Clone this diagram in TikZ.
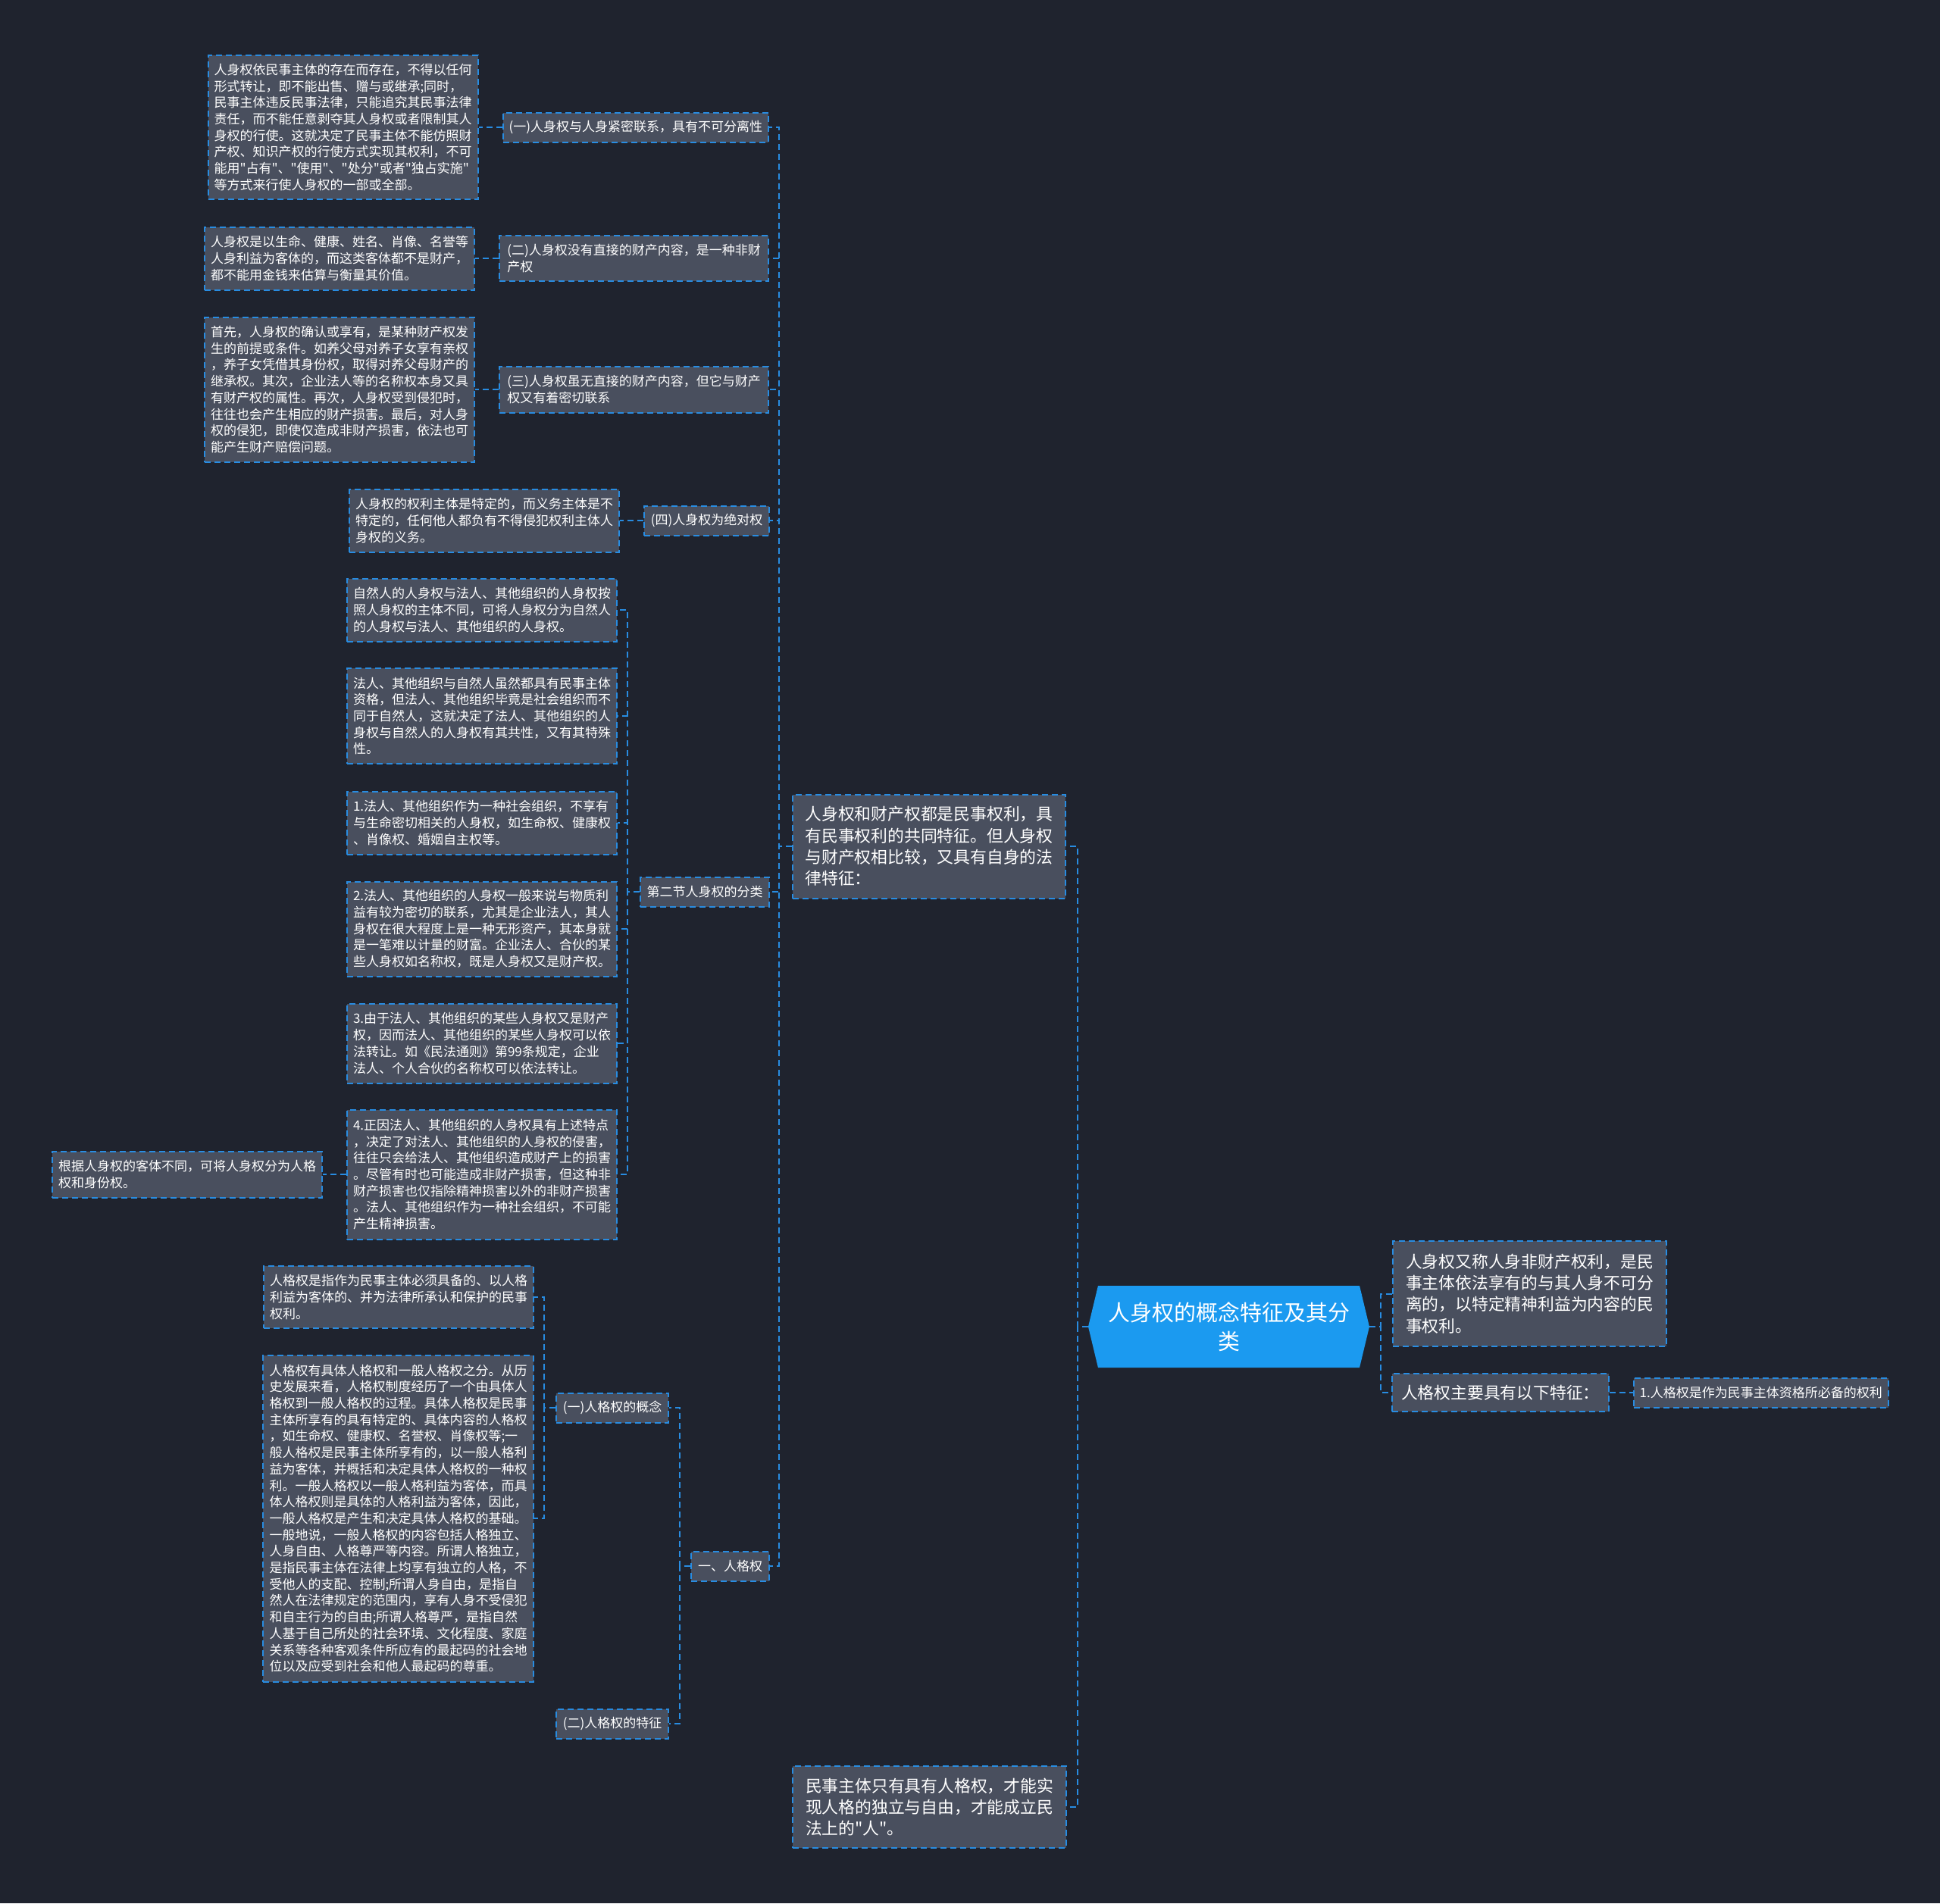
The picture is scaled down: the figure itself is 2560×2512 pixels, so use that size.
\documentclass[tikz,border=0pt]{standalone}
\usepackage{fontspec}
\newfontfamily\cjk{Noto Sans CJK SC}
\usetikzlibrary{positioning,shapes.symbols}
\definecolor{bgdark}{HTML}{1F232E}
\definecolor{boxgrey}{HTML}{494F5E}
\definecolor{linkblue}{HTML}{288CE1}
\definecolor{rootblue}{HTML}{1B9AF0}
\tikzset{
  leaf/.style={draw=linkblue, dash pattern=on 8pt off 5pt, line width=2pt, fill=boxgrey,
    text=white, align=left, inner xsep=8pt, inner ysep=4pt, font=\cjk\fontsize{17}{21.7}\selectfont},
  topic/.style={leaf, inner xsep=12pt, font=\cjk\fontsize{21.8}{28.3}\selectfont},
  link/.style={draw=linkblue, dash pattern=on 8pt off 5pt, line width=2pt},
  rootbox/.style={signal, signal to=west and east, signal pointer angle=153, fill=rootblue,
    text=white, align=center, font=\cjk\fontsize{29}{38}\selectfont}
}
\begin{document}
\begin{tikzpicture}[x=1pt, y=-1pt, node distance=31pt]
    \path[use as bounding box, fill=bgdark] (0,0) rectangle (2560,2512);

    \node[rootbox, minimum width=371pt, minimum height=108pt] (root) at (1621.5,1751)
      {人身权的概念特征及其分\\类};
    \node[topic, anchor=west, minimum width=361pt, minimum height=139pt] (def) at (1837,1707.5)
      {人身权又称人身非财产权利，是民\\事主体依法享有的与其人身不可分\\离的，以特定精神利益为内容的民\\事权利。};
    \node[topic, anchor=west, minimum width=284pt, minimum height=50pt] (feat) at (1836,1838)
      {人格权主要具有以下特征：};
    \node[leaf, right=of feat, minimum width=335pt, minimum height=39pt] (feat1)
      {1.人格权是作为民事主体资格所必备的权利};

    \node[topic, anchor=east, minimum width=360pt, minimum height=137pt] (cmp) at (1407,1117)
      {人身权和财产权都是民事权利，具\\有民事权利的共同特征。但人身权\\与财产权相比较，又具有自身的法\\律特征：};
    \node[topic, anchor=east, minimum width=361pt, minimum height=108pt] (pers) at (1408,2385)
      {民事主体只有具有人格权，才能实\\现人格的独立与自由，才能成立民\\法上的"人"。};

    \node[leaf, anchor=east, minimum width=350pt, minimum height=39pt] (k1) at (1015,168)
      {(一)人身权与人身紧密联系，具有不可分离性};
    \node[leaf, left=of k1, minimum width=356pt, minimum height=190pt] (t1)
      {人身权依民事主体的存在而存在，不得以任何\\形式转让，即不能出售、赠与或继承;同时，\\民事主体违反民事法律，只能追究其民事法律\\责任，而不能任意剥夺其人身权或者限制其人\\身权的行使。这就决定了民事主体不能仿照财\\产权、知识产权的行使方式实现其权利，不可\\能用"占有"、"使用"、"处分"或者"独占实施"\\等方式来行使人身权的一部或全部。};
    \node[leaf, anchor=east, minimum width=355pt, minimum height=60pt] (k2) at (1015,341)
      {(二)人身权没有直接的财产内容，是一种非财\\产权};
    \node[leaf, left=of k2, minimum width=356pt, minimum height=83pt] (t2)
      {人身权是以生命、健康、姓名、肖像、名誉等\\人身利益为客体的，而这类客体都不是财产，\\都不能用金钱来估算与衡量其价值。};
    \node[leaf, anchor=east, minimum width=355pt, minimum height=61pt] (k3) at (1015,514)
      {(三)人身权虽无直接的财产内容，但它与财产\\权又有着密切联系};
    \node[leaf, left=of k3, minimum width=356pt, minimum height=191pt] (t3)
      {首先，人身权的确认或享有，是某种财产权发\\生的前提或条件。如养父母对养子女享有亲权\\，养子女凭借其身份权，取得对养父母财产的\\继承权。其次，企业法人等的名称权本身又具\\有财产权的属性。再次，人身权受到侵犯时，\\往往也会产生相应的财产损害。最后，对人身\\权的侵犯，即使仅造成非财产损害，依法也可\\能产生财产赔偿问题。};
    \node[leaf, anchor=east, minimum width=165pt, minimum height=39pt] (k4) at (1016,687)
      {(四)人身权为绝对权};
    \node[leaf, left=of k4, minimum width=356pt, minimum height=83pt] (t4)
      {人身权的权利主体是特定的，而义务主体是不\\特定的，任何他人都负有不得侵犯权利主体人\\身权的义务。};

    \node[leaf, anchor=east, minimum width=170pt, minimum height=39pt] (cls) at (1016,1177)
      {第二节人身权的分类};
    \node[leaf, anchor=east, minimum width=356pt, minimum height=83pt] (c1) at (815,805)
      {自然人的人身权与法人、其他组织的人身权按\\照人身权的主体不同，可将人身权分为自然人\\的人身权与法人、其他组织的人身权。};
    \node[leaf, anchor=east, minimum width=356pt, minimum height=126pt] (c2) at (815,945)
      {法人、其他组织与自然人虽然都具有民事主体\\资格，但法人、其他组织毕竟是社会组织而不\\同于自然人，这就决定了法人、其他组织的人\\身权与自然人的人身权有其共性，又有其特殊\\性。};
    \node[leaf, anchor=east, minimum width=356pt, minimum height=83pt] (c3) at (815,1086)
      {1.法人、其他组织作为一种社会组织，不享有\\与生命密切相关的人身权，如生命权、健康权\\、肖像权、婚姻自主权等。};
    \node[leaf, anchor=east, minimum width=356pt, minimum height=125pt] (c4) at (815,1226)
      {2.法人、其他组织的人身权一般来说与物质利\\益有较为密切的联系，尤其是企业法人，其人\\身权在很大程度上是一种无形资产，其本身就\\是一笔难以计量的财富。企业法人、合伙的某\\些人身权如名称权，既是人身权又是财产权。};
    \node[leaf, anchor=east, minimum width=356pt, minimum height=105pt] (c5) at (815,1377)
      {3.由于法人、其他组织的某些人身权又是财产\\权，因而法人、其他组织的某些人身权可以依\\法转让。如《民法通则》第99条规定，企业\\法人、个人合伙的名称权可以依法转让。};
    \node[leaf, anchor=east, minimum width=356pt, minimum height=171pt] (c6) at (815,1550)
      {4.正因法人、其他组织的人身权具有上述特点\\，决定了对法人、其他组织的人身权的侵害，\\往往只会给法人、其他组织造成财产上的损害\\。尽管有时也可能造成非财产损害，但这种非\\财产损害也仅指除精神损害以外的非财产损害\\。法人、其他组织作为一种社会组织，不可能\\产生精神损害。};
    \node[leaf, left=of c6, minimum width=356pt, minimum height=61pt] (c6a)
      {根据人身权的客体不同，可将人身权分为人格\\权和身份权。};

    \node[leaf, anchor=east, minimum width=103pt, minimum height=39pt] (rgq) at (1016,2067)
      {一、人格权};
    \node[leaf, anchor=east, minimum width=148pt, minimum height=39pt] (g1) at (883,1858)
      {(一)人格权的概念};
    \node[leaf, anchor=east, minimum width=148pt, minimum height=39pt] (g2) at (883,2275)
      {(二)人格权的特征};
    \node[leaf, anchor=east, minimum width=356pt, minimum height=82pt] (g1a) at (705,1712)
      {人格权是指作为民事主体必须具备的、以人格\\利益为客体的、并为法律所承认和保护的民事\\权利。};
    \node[leaf, anchor=east, minimum width=357pt, minimum height=431pt] (g1b) at (705,2004)
      {人格权有具体人格权和一般人格权之分。从历\\史发展来看，人格权制度经历了一个由具体人\\格权到一般人格权的过程。具体人格权是民事\\主体所享有的具有特定的、具体内容的人格权\\，如生命权、健康权、名誉权、肖像权等;一\\般人格权是民事主体所享有的，以一般人格利\\益为客体，并概括和决定具体人格权的一种权\\利。一般人格权以一般人格利益为客体，而具\\体人格权则是具体的人格利益为客体，因此，\\一般人格权是产生和决定具体人格权的基础。\\一般地说，一般人格权的内容包括人格独立、\\人身自由、人格尊严等内容。所谓人格独立，\\是指民事主体在法律上均享有独立的人格，不\\受他人的支配、控制;所谓人身自由，是指自\\然人在法律规定的范围内，享有人身不受侵犯\\和自主行为的自由;所谓人格尊严，是指自然\\人基于自己所处的社会环境、文化程度、家庭\\关系等各种客观条件所应有的最起码的社会地\\位以及应受到社会和他人最起码的尊重。};

    \foreach \c in {def,feat} \draw[link] (root.east) -- ++(15,0) |- (\c.west);
    \draw[link] (feat) -- (feat1);
    \foreach \c in {cmp,pers} \draw[link] (root.west) -- ++(-14,0) |- (\c.east);
    \foreach \c in {k1,k2,k3,k4,cls,rgq} \draw[link] (cmp.west) -- ++(-17,0) |- (\c.east);
    \foreach \p/\c in {k1/t1,k2/t2,k3/t3,k4/t4,c6/c6a} \draw[link] (\p.west) -- (\c.east);
    \foreach \c in {c1,c2,c3,c4,c5,c6} \draw[link] (cls.west) -- ++(-16,0) |- (\c.east);
    \foreach \c in {g1,g2} \draw[link] (rgq.west) -- ++(-14,0) |- (\c.east);
    \foreach \c in {g1a,g1b} \draw[link] (g1.west) -- ++(-15,0) |- (\c.east);
\end{tikzpicture}
\end{document}
